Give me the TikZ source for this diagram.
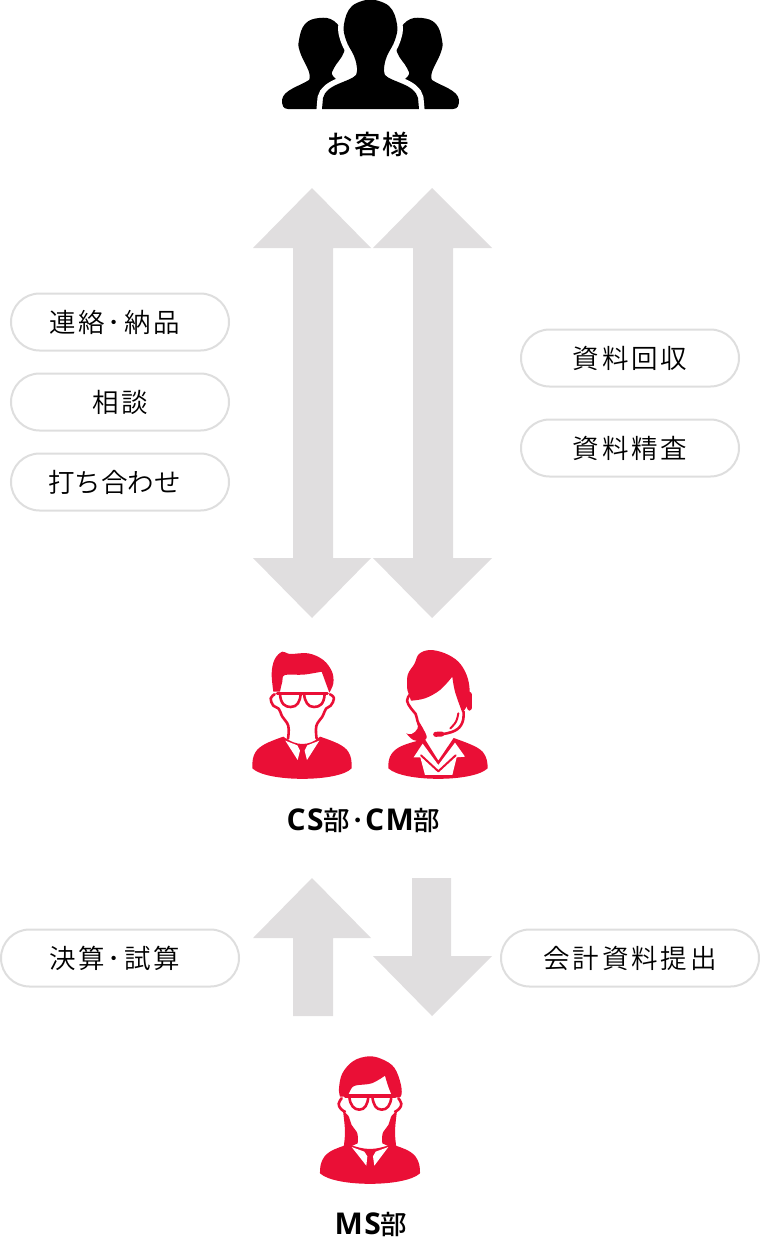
\documentclass[tikz,border=0pt]{standalone}
\usepackage{fontspec}
\setmainfont[LetterSpace=11]{Noto Sans CJK JP DemiLight}
\newfontfamily\tightfont{Noto Sans CJK JP DemiLight}
\newfontfamily\deptfont[LetterSpace=6]{Noto Sans CJK JP Medium}
\newfontfamily\deptlatin[LetterSpace=5]{Open Sans}
\definecolor{arrowgray}{HTML}{E0DEDF}
\definecolor{pillgray}{HTML}{DEDEDE}
\definecolor{staffred}{HTML}{EA0F36}
\tikzset{
  pill/.style={draw=pillgray, line width=2pt, rounded corners=28.5pt, fill=white, minimum height=57pt, inner sep=0pt, text=black, font=\fontsize{26.5}{26.5}\selectfont},
  pilltext/.style={text=black, inner sep=0pt, font=\fontsize{26.5}{26.5}\selectfont},
  deptlabel/.style={text=black, inner sep=0pt, font=\fontsize{26.5}{26.5}\selectfont\deptfont},
  bigarrow/.style={fill=arrowgray, draw=none},
  icon/.style={x=0.3333pt, y=-0.3333pt, line join=round, line cap=round},
  redline/.style={draw=staffred, line width=2.6pt, fill=none},
  thinred/.style={draw=staffred, line width=2pt, fill=none}
}
\newcommand{\sideperson}{plot[smooth, tension=.7] coordinates {(309,80) (309,72) (300,52) (299,40) (305,24) (319,18) (334,21) (344,36) (344,52) (334,68) (333,76) (345,85)} -- (345,109) -- (288,109) .. controls (283,109) and (282,105) .. (282,100) .. controls (283,90) and (300,86) .. (309,80) -- cycle}
\newcommand{\latinpart}[1]{{\fontsize{30}{30}\selectfont\deptlatin\bfseries #1}}
\begin{document}
\begin{tikzpicture}[x=1pt,y=-1pt]
  \useasboundingbox (0,0) rectangle (760,1242);
  %%Upper arrows
  \fill[bigarrow] (312,188) -- (371,248) -- (333,248) -- (333,558) -- (371,558) -- (312,618) -- (253,558) -- (293,558) -- (293,248) -- (253,248) -- cycle;
  \fill[bigarrow] (432,188) -- (492,248) -- (453,248) -- (453,558) -- (492,558) -- (432,618) -- (373,558) -- (413,558) -- (413,248) -- (373,248) -- cycle;
  %%Lower arrows
  \fill[bigarrow] (312,878) -- (371,938) -- (333,938) -- (333,1016) -- (293,1016) -- (293,938) -- (253,938) -- cycle;
  \fill[bigarrow] (412,878) -- (451,878) -- (451,956) -- (492,956) -- (432,1016) -- (373,956) -- (412,956) -- cycle;
  %%Customers
  \fill \sideperson;
  \begin{scope}[xshift=741pt,xscale=-1]
    \fill \sideperson;
  \end{scope}
  \fill[preaction={draw=white, line width=11pt}] plot[smooth, tension=.7] coordinates {(370.5,-1) (352,6) (344,24) (346,40) (354,56) (357,68) (356,75)} .. controls (350,82) and (326,84) .. (323,98) -- (322,109) -- (419,109) -- (418,98) .. controls (415,84) and (391,82) .. (385,75) -- plot[smooth, tension=.7] coordinates {(385,75) (384,68) (387,56) (395,40) (397,24) (389,6) (370.5,-1)} -- cycle;
  %%Man with glasses
  \begin{scope}[icon, shift={(240pt,-640pt)}]
    \fill[staffred] plot[smooth, tension=.6] coordinates {(120,155) (127,125) (135,105) (190,104) (245,95)} -- plot[smooth, tension=.6] coordinates {(245,95) (256,125) (268,158)} -- plot[smooth, tension=.6] coordinates {(268,158) (280,130) (276,95) (250,60) (205,40) (150,42) (127,35) (104,58) (95,100) (100,155)} -- cycle;
    \draw[redline] plot[smooth, tension=.7] coordinates {(104,163) (92,175) (100,197) (116,206) (127,230) (145,258) (144,296)};
    \draw[redline] plot[smooth, tension=.7] coordinates {(270,163) (282,175) (272,197) (258,206) (247,230) (229,258) (230,296)};
    \draw[staffred, line width=3.4pt] (112,160) -- (262,160);
    \draw[redline] (120,162) .. controls (122,192) and (135,201) .. (152,201) .. controls (172,201) and (180,185) .. (182,162);
    \draw[redline] (192,162) .. controls (195,185) and (203,201) .. (222,201) .. controls (240,201) and (252,192) .. (254,162);
    \fill[staffred] plot[smooth, tension=.7] coordinates {(130,290) (70,315) (42,345) (37,385)} .. controls (80,427) and (295,427) .. (335,385) -- plot[smooth, tension=.7] coordinates {(335,385) (330,345) (302,315) (240,290)} .. controls (225,305) and (205,312) .. (187,312) .. controls (170,312) and (150,305) .. (130,290) -- cycle;
    \fill[white] (136,302) -- (172,316) -- (180,332) -- (173,360) -- cycle;
    \fill[white] (238,302) -- (202,316) -- (194,332) -- (201,360) -- cycle;
  \end{scope}
  %%Woman with headset
  \begin{scope}[icon, shift={(375pt,-640pt)}]
    \draw[redline] plot[smooth, tension=.7] coordinates {(104,165) (96,182) (108,205) (122,222) (130,250) (150,290)};
    \fill[staffred] plot[smooth, tension=.7] coordinates {(124,240) (128,265) (110,282) (94,280)} -- plot[smooth, tension=.7] coordinates {(94,280) (115,300) (140,302) (155,290) (135,250)} -- cycle;
    \fill[staffred] plot[smooth, tension=.6] coordinates {(108,182) (150,175) (195,150) (232,110)} -- plot[smooth, tension=.6] coordinates {(232,110) (240,155) (262,218)} -- plot[smooth, tension=.6] coordinates {(262,218) (280,190) (284,150) (275,105) (250,65) (210,40) (165,30) (132,42) (118,72) (98,105) (97,150)} -- cycle;
    \fill[staffred, rounded corners=3pt] (276,155) rectangle (291,212);
    \draw[redline] plot[smooth, tension=.7] coordinates {(266,215) (262,248) (240,272) (200,283)};
    \draw[staffred, line width=2pt] plot[smooth, tension=.7] coordinates {(250,220) (243,245) (226,265)};
    \draw[staffred, line width=5pt] (182,283) -- (200,282);
    \fill[staffred] plot[smooth, tension=.7] coordinates {(122,304) (72,322) (45,350) (40,385)} .. controls (85,427) and (295,427) .. (338,385) -- plot[smooth, tension=.7] coordinates {(338,385) (332,350) (305,322) (236,294)} -- (190,362) -- (150,298) -- cycle;
    \fill[white] (143,311) -- (116,352) -- (136,352) -- (150,405) -- (232,405) -- (245,352) -- (270,350) -- (240,308) -- (190,375) -- cycle;
    \draw[thinred] (138,346) -- (190,394) -- (242,346);
  \end{scope}
  %%MS woman
  \begin{scope}[icon, shift={(305pt,-1045pt)}]
    \fill[staffred] plot[smooth, tension=.6] coordinates {(128,155) (135,138) (150,122) (200,115) (240,92)} -- plot[smooth, tension=.6] coordinates {(240,92) (250,125) (262,155)} -- plot[smooth, tension=.6] coordinates {(262,155) (287,155) (288,120) (268,68) (230,42) (190,34) (145,48) (112,85) (102,130) (105,155)} -- cycle;
    \draw[redline] plot[smooth, tension=.8] coordinates {(110,160) (101,176) (108,192) (120,200)};
    \draw[redline] plot[smooth, tension=.8] coordinates {(280,160) (289,176) (282,192) (270,200)};
    \fill[staffred] plot[smooth, tension=.6] coordinates {(114,198) (130,212) (140,240) (157,265) (158,295)} -- (115,315) -- plot[smooth, tension=.6] coordinates {(115,315) (120,260) (114,198)} -- cycle;
    \fill[staffred] plot[smooth, tension=.6] coordinates {(276,198) (260,212) (250,240) (233,265) (232,295)} -- (275,315) -- plot[smooth, tension=.6] coordinates {(275,315) (270,260) (276,198)} -- cycle;
    \draw[staffred, line width=3.4pt] (122,153) -- (270,153);
    \draw[redline] (133,155) .. controls (135,182) and (148,194) .. (163,194) .. controls (180,194) and (188,178) .. (190,155);
    \draw[redline] (202,155) .. controls (205,178) and (212,194) .. (230,194) .. controls (246,194) and (257,182) .. (259,155);
    \fill[staffred] plot[smooth, tension=.7] coordinates {(130,298) (75,320) (50,350) (45,385)} .. controls (90,427) and (300,427) .. (345,385) -- plot[smooth, tension=.7] coordinates {(345,385) (340,350) (315,320) (260,298)} .. controls (240,305) and (215,312) .. (195,312) .. controls (175,312) and (150,305) .. (130,298) -- cycle;
    \fill[white] (140,306) -- (178,320) -- (187,334) -- (184,362) -- cycle;
    \fill[white] (250,306) -- (212,320) -- (204,334) -- (208,362) -- cycle;
  \end{scope}
  %%Pills
  \node[pill, minimum width=218pt] (contact) at (120,322) {};
  \node[pilltext] (contacttext) at (114.5,322) {連絡･納品};
  \node[pill, minimum width=218pt] (consult) at (120,402) {相談};
  \node[pill, minimum width=218pt] (meeting) at (120,482) {};
  \node[pilltext] (meetingtext) at (114.5,482) {\tightfont 打ち合わせ};
  \node[pill, minimum width=218pt] (collect) at (630,358) {資料回収};
  \node[pill, minimum width=218pt] (review) at (630,448) {資料精査};
  \node[pill, minimum width=238pt] (closing) at (120,958) {};
  \node[pilltext] (closingtext) at (114.5,958) {決算･試算};
  \node[pill, minimum width=258pt] (submit) at (630,958) {会計資料提出};
  %%Departments
  \node[deptlabel] (customer) at (367.5,144) {お客様};
  \node[deptlabel] (csdept) at (363.5,820) {\latinpart{CS}部･\latinpart{CM}部};
  \node[deptlabel] (msdept) at (371,1224) {\latinpart{MS}部};
\end{tikzpicture}
\end{document}
